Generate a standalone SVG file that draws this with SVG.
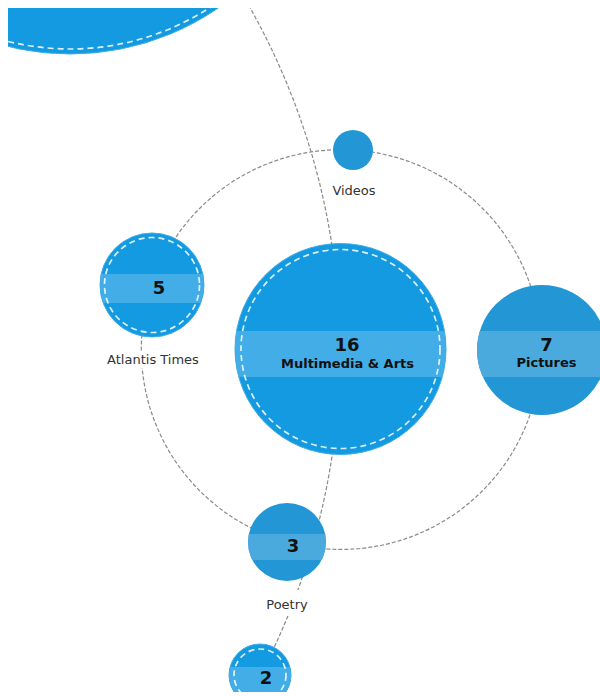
<svg xmlns="http://www.w3.org/2000/svg" width="600" height="696" viewBox="0 0 600 696">
<style>
.conn{fill:none;stroke:#8a8a8a;stroke-width:1.2;stroke-dasharray:4,2}
.nA{fill:#149ae0;stroke:#3eace7;stroke-width:1}
.nB{fill:#2397d5}
.bA{fill:#42ade6}
.bB{fill:#4aaade}
.ring{fill:none;stroke:#ffffff;stroke-width:1.7;stroke-dasharray:6,4;opacity:0.85}
.num{font-family:"DejaVu Sans",sans-serif;font-weight:bold;font-size:18px;fill:#111;text-anchor:middle}
.name{font-family:"DejaVu Sans",sans-serif;font-weight:bold;font-size:13px;fill:#111;text-anchor:middle}
.lab{font-family:"DejaVu Sans",sans-serif;font-size:13px;fill:#333;text-anchor:middle}
.bg{fill:#ffffff}
</style>
<defs>
<clipPath id="view"><rect x="8" y="8" width="600" height="684"/></clipPath>
<clipPath id="cMM"><circle cx="340.5" cy="349" r="105.5"/></clipPath>
<clipPath id="cPic"><circle cx="542" cy="350" r="65"/></clipPath>
<clipPath id="cAt"><circle cx="152" cy="285" r="52"/></clipPath>
<clipPath id="cPo"><circle cx="287" cy="542" r="39"/></clipPath>
<clipPath id="c2"><circle cx="260" cy="675" r="31"/></clipPath>
</defs>
<g clip-path="url(#view)">
<g id="connectors">
<path class="conn" d="M 353,150 A 200 200 0 0 1 541,350"/>
<path class="conn" d="M 541,350 A 200 200 0 0 1 287,542"/>
<path class="conn" d="M 287,542 A 200 200 0 0 1 152,285"/>
<path class="conn" d="M 152,285 A 200 200 0 0 1 353,150"/>
<path class="conn" d="M 245.6,0 A 700 700 0 0 1 340,349"/>
<path class="conn" d="M 340,349 A 700 700 0 0 1 313.4,542"/>
<path class="conn" d="M 313.4,542 A 700 700 0 0 1 245.6,702"/>
</g>
<g id="node-top">
<circle class="nA" cx="70" cy="-208" r="262"/>
<circle class="ring" cx="70" cy="-208" r="257"/>
</g>
<g id="node-videos">
<circle class="nB" cx="353" cy="150" r="20"/>
<text class="lab" x="354" y="195">Videos</text>
</g>
<g id="node-multimedia">
<circle class="nA" cx="340.5" cy="349" r="105.5"/>
<rect class="bA" x="230" y="331" width="222" height="46" clip-path="url(#cMM)"/>
<circle class="ring" cx="340.5" cy="349" r="99.5"/>
<text class="num" x="347" y="351">16</text>
<text class="name" x="347.5" y="368">Multimedia &amp; Arts</text>
</g>
<g id="node-pictures">
<circle class="nB" cx="542" cy="350" r="65"/>
<rect class="bB" x="475" y="331" width="135" height="46" clip-path="url(#cPic)"/>
<text class="num" x="546.5" y="351">7</text>
<text class="name" x="546.5" y="367">Pictures</text>
</g>
<g id="node-atlantis">
<circle class="nA" cx="152" cy="285" r="52"/>
<rect class="bA" x="98" y="274" width="110" height="29" clip-path="url(#cAt)"/>
<circle class="ring" cx="152" cy="285" r="47.5"/>
<text class="num" x="159" y="294">5</text>
<rect class="bg" x="104" y="351" width="98" height="17"/>
<text class="lab" x="153" y="364">Atlantis Times</text>
</g>
<g id="node-poetry">
<circle class="nB" cx="287" cy="542" r="39"/>
<rect class="bB" x="246" y="534" width="84" height="26" clip-path="url(#cPo)"/>
<text class="num" x="293" y="552">3</text>
<rect class="bg" x="264" y="590" width="46" height="26"/>
<text class="lab" x="287" y="609">Poetry</text>
</g>
<g id="node-2">
<circle class="nA" cx="260" cy="675" r="31"/>
<rect class="bA" x="226" y="667" width="70" height="26" clip-path="url(#c2)"/>
<circle class="ring" cx="260" cy="675" r="26"/>
<text class="num" x="266" y="684">2</text>
</g>
</g>
</svg>
